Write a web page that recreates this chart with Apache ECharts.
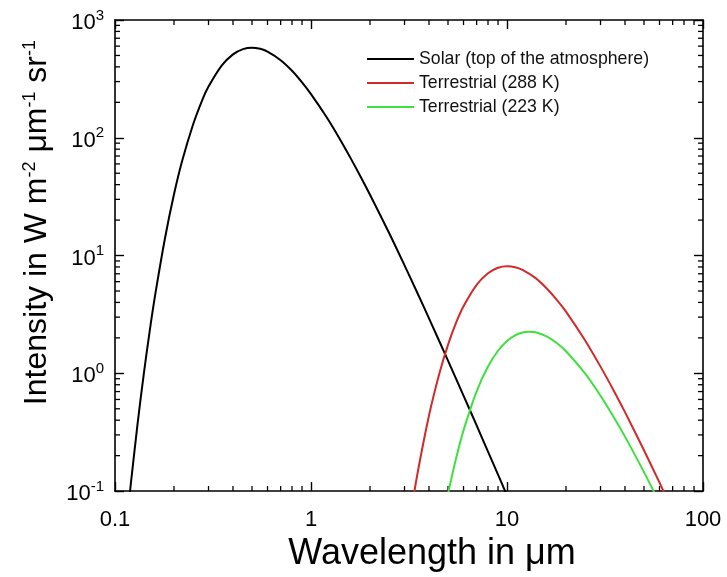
<!DOCTYPE html>
<html>
<head>
<meta charset="utf-8">
<script src="https://cdn.jsdelivr.net/npm/echarts@6/dist/echarts.min.js"></script>
<style>
html,body{margin:0;padding:0;background:#fff;}
#chart{width:727px;height:577px;}
</style>
</head>
<body>
<div id="chart"></div>
<script>
// ---- data ----
const seriesNames = ['Solar (top of the atmosphere)', 'Terrestrial (288 K)', 'Terrestrial (223 K)'];

const solarWavelength = [0.115,0.12,0.13,0.14,0.15,0.16,0.18,0.2,0.22,0.25,0.28,0.3,0.35,0.4,0.45,0.5,0.55,0.6,0.7,0.8,0.9,1.0,1.2,1.4,1.6,1.8,2.0,2.5,3,3.5,4,5,6,7,8,9,10];
const solarIntensity = [0.0549,0.109,0.358,0.967,2.23,4.54,14.1,33.1,63.4,129,213,272,410,511,566,582,569,539,456,371,296,235,150,98.2,66.2,46.0,32.8,15.6,8.25,4.76,2.93,1.28,0.647,0.361,0.216,0.138,0.0915];

const warmWavelength = [3.2,3.5,4,4.5,5,5.5,6,7,8,9,10,11,12,14,16,18,20,25,30,35,40,50,60,70];
const warmIntensity = [0.0589,0.143,0.438,0.973,1.745,2.69,3.71,5.64,7.07,7.87,8.11,7.97,7.56,6.43,5.23,4.19,3.34,1.91,1.14,0.716,0.468,0.222,0.118,0.068];

const coldWavelength = [4.8,5,5.5,6,7,8,9,10,11,12,13,14,16,18,20,25,30,35,40,50,60];
const coldIntensity = [0.0679,0.0948,0.190,0.328,0.704,1.143,1.555,1.882,2.103,2.223,2.259,2.229,2.050,1.799,1.539,0.999,0.646,0.426,0.290,0.145,0.0793];

const xMinorTicks = [0.2,0.3,0.4,0.5,0.6,0.7,0.8,0.9,2,3,4,5,6,7,8,9,20,30,40,50,60,70,80,90];
const yMinorTicks = [0.2,0.3,0.4,0.5,0.6,0.7,0.8,0.9,2,3,4,5,6,7,8,9,20,30,40,50,60,70,80,90,200,300,400,500,600,700,800,900];

const colors = ['#000000', '#d02a2a', '#3ee03e'];

// ---- build ----
const FONT = 'Liberation Sans, Arial, sans-serif';
const pairs = (xs, ys) => xs.map((x, i) => [x, ys[i]]);

const axisLineStyle = { color: '#000', width: 1.6 };
const tickStyle = { color: '#000', width: 1.4 };

const chart = echarts.init(document.getElementById('chart'), null, { renderer: 'canvas' });

const supRich = {
  b: { fontSize: 22, fontFamily: FONT, color: '#000', lineHeight: 24, padding: [6, 0, 0, 0] },
  s: { fontSize: 15, fontFamily: FONT, color: '#000', verticalAlign: 'top', lineHeight: 14 }
};

const option = {
  backgroundColor: '#fff',
  animation: false,
  grid: { left: 115, right: 24, top: 20, bottom: 79, containLabel: false },
  legend: {
    data: seriesNames,
    orient: 'vertical',
    left: 367, top: 50,
    icon: 'rect',
    itemWidth: 47, itemHeight: 2,
    itemGap: 6,
    padding: 0,
    textStyle: { fontSize: 17.7, fontFamily: FONT, color: '#111' }
  },
  xAxis: [
    {
      type: 'log', logBase: 10, min: 0.1, max: 100, position: 'bottom',
      name: 'Wavelength in \u03bcm', nameLocation: 'middle', nameGap: 40,
      nameTextStyle: { fontSize: 36, fontFamily: FONT, color: '#000', padding: [0, 0, 0, 46] },
      axisLine: { show: true, lineStyle: axisLineStyle },
      axisTick: { show: true, inside: true, length: 9, lineStyle: tickStyle },
      axisLabel: { fontSize: 22, fontFamily: FONT, color: '#000', margin: 18,
        formatter: v => String(+v.toPrecision(3)) },
      splitLine: { show: false }, minorTick: { show: false }
    },
    {
      type: 'log', logBase: 10, min: 0.1, max: 100, position: 'top',
      axisLine: { show: true, lineStyle: axisLineStyle },
      axisTick: { show: true, inside: true, length: 9, lineStyle: tickStyle },
      axisLabel: { show: false }, splitLine: { show: false }
    }
  ],
  yAxis: [
    {
      type: 'log', logBase: 10, min: 0.1, max: 1000, position: 'left',
      name: 'Intensity in W m{s|-2} \u03bcm{s|-1} sr{s|-1}',
      nameLocation: 'middle', nameRotate: 90, nameGap: 62,
      nameTextStyle: {
        fontSize: 32, fontFamily: FONT, color: '#000', padding: [0, 0, 0, 66],
        rich: { s: { fontSize: 18, fontFamily: FONT, color: '#000', verticalAlign: 'top', lineHeight: 16 } }
      },
      axisLine: { show: true, lineStyle: axisLineStyle },
      axisTick: { show: true, inside: true, length: 9, lineStyle: tickStyle },
      axisLabel: {
        margin: 11,
        formatter: v => '{b|10}{s|' + Math.round(Math.log10(v)) + '}',
        rich: supRich
      },
      splitLine: { show: false }
    },
    {
      type: 'log', logBase: 10, min: 0.1, max: 1000, position: 'right',
      axisLine: { show: true, lineStyle: axisLineStyle },
      axisTick: { show: true, inside: true, length: 9, lineStyle: tickStyle },
      axisLabel: { show: false }, splitLine: { show: false }
    }
  ],
  series: [
    { name: seriesNames[0], type: 'line', data: pairs(solarWavelength, solarIntensity),
      showSymbol: false, symbol: 'none', color: colors[0], lineStyle: { width: 2, color: colors[0] }, clip: true, smooth: 0.3 },
    { name: seriesNames[1], type: 'line', data: pairs(warmWavelength, warmIntensity),
      showSymbol: false, symbol: 'none', color: colors[1], lineStyle: { width: 2, color: colors[1] }, clip: true, smooth: 0.3 },
    { name: seriesNames[2], type: 'line', data: pairs(coldWavelength, coldIntensity),
      showSymbol: false, symbol: 'none', color: colors[2], lineStyle: { width: 2, color: colors[2] }, clip: true, smooth: 0.3 },
    {
      name: 'xMinor', type: 'custom', silent: true, clip: false,
      data: xMinorTicks.map(v => [v, 1]),
      renderItem: (params, api) => {
        const v = api.value(0);
        const b = api.coord([v, 0.1]);
        const t = api.coord([v, 1000]);
        return { type: 'group', children: [
          { type: 'line', shape: { x1: b[0], y1: b[1], x2: b[0], y2: b[1] - 5 }, style: { stroke: '#000', lineWidth: 1.3 } },
          { type: 'line', shape: { x1: t[0], y1: t[1], x2: t[0], y2: t[1] + 5 }, style: { stroke: '#000', lineWidth: 1.3 } }
        ]};
      }
    },
    {
      name: 'yMinor', type: 'custom', silent: true, clip: false,
      data: yMinorTicks.map(v => [1, v]),
      renderItem: (params, api) => {
        const v = api.value(1);
        const l = api.coord([0.1, v]);
        const r = api.coord([100, v]);
        return { type: 'group', children: [
          { type: 'line', shape: { x1: l[0], y1: l[1], x2: l[0] + 5, y2: l[1] }, style: { stroke: '#000', lineWidth: 1.3 } },
          { type: 'line', shape: { x1: r[0], y1: r[1], x2: r[0] - 5, y2: r[1] }, style: { stroke: '#000', lineWidth: 1.3 } }
        ]};
      }
    }
  ]
};
chart.setOption(option);
</script>
</body>
</html>
